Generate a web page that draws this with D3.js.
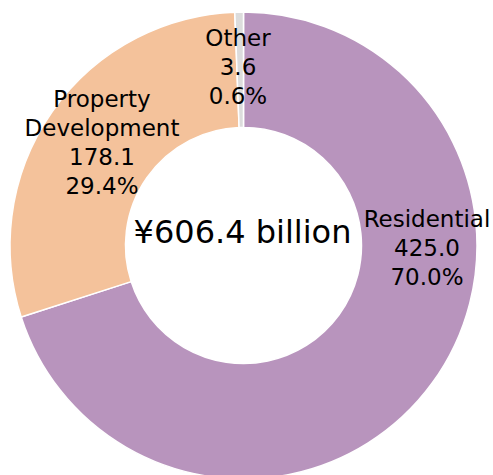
<!DOCTYPE html>
<html>
  <head>
    <meta charset="utf-8" />
    <title>Revenue breakdown</title>
    <script src="https://d3js.org/d3.v7.min.js"></script>
    <style>
      body { margin: 0; background: #fff; }
      text { font-family: "DejaVu Sans", Verdana, sans-serif; fill: #000; }
    </style>
  </head>
  <body>
    <svg id="chart" width="493" height="475"></svg>

    <script>
      // data
      var segments = ["Residential", "Property\nDevelopment", "Other"];
      var values = [425.0, 178.1, 3.6];
      var shares = ["70.0%", "29.4%", "0.6%"];
      var totalLabel = "\u00a5606.4 billion";

      var colors = ["#b894bd", "#f4c29b", "#dcdcdc"];

      // where each label block sits (centre x, first baseline y)
      var labelPos = [[427, 227], [102, 107], [238, 46]];

      var svg = d3.select("#chart");
      var cx = 243.5, cy = 245.5;

      var g = svg.append("g")
          .attr("transform", "translate(" + cx + "," + cy + ")");

      var pie = d3.pie().sort(null).value(function(d) { return d; });
      var arc = d3.arc().innerRadius(118).outerRadius(233.5);

      g.selectAll("path")
          .data(pie(values))
          .join("path")
          .attr("d", arc)
          .attr("fill", function(d, i) { return colors[i]; })
          .attr("stroke", "#fff")
          .attr("stroke-width", 1.5);

      // centre total
      svg.append("text")
          .attr("x", cx - 1)
          .attr("y", 243)
          .attr("text-anchor", "middle")
          .style("font-size", "32px")
          .text(totalLabel);

      // segment labels
      segments.forEach(function(name, i) {
        var lines = name.split("\n").concat([values[i].toFixed(1), shares[i]]);
        var t = svg.append("text")
            .attr("text-anchor", "middle")
            .style("font-size", "23px");
        lines.forEach(function(line, j) {
          t.append("tspan")
              .attr("x", labelPos[i][0])
              .attr("y", labelPos[i][1] + j * 29)
              .text(line);
        });
      });
    </script>
  </body>
</html>
